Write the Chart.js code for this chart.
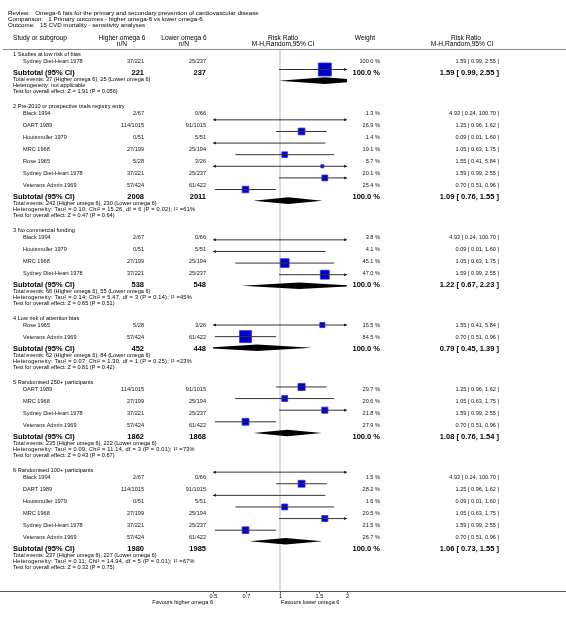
<!DOCTYPE html>
<html>
<head>
<meta charset="utf-8">
<script src="https://cdn.jsdelivr.net/npm/chart.js@4.4.0/dist/chart.umd.min.js"></script>
<style>
html, body { margin: 0; padding: 0; background: #fff; }
#wrap { width: 566px; height: 621px; }
</style>
</head>
<body>
<div id="wrap"><canvas id="forest" width="566" height="621"></canvas></div>
<script>
const titleLines = [
    'Review:   Omega-6 fats for the primary and secondary prevention of cardiovascular disease',
    'Comparison:   1 Primary outcomes - higher omega-6 vs lower omega-6',
    'Outcome:   15 CVD mortality - sensitivity analyses'
];

const groupTitles = [
    '1 Studies at low risk of bias',
    '2 Pre-2010 or prospective trials registry entry',
    '3 No commercial funding',
    '4 Low risk of attention bias',
    '5 Randomised 250+ participants',
    '6 Randomised 100+ participants'
];

// study level values
const studyNames = ['Black 1994', 'DART 1989', 'Houtsmuller 1979', 'MRC 1968', 'Rose 1965', 'Sydney Diet-Heart 1978', 'Veterans Admin 1969'];
const higherNN = ['2/67', '114/1015', '0/51', '27/199', '5/28', '37/221', '57/424'];
const lowerNN = ['0/66', '91/1015', '5/51', '25/194', '3/26', '25/237', '61/422'];
const studyRR = [4.93, 1.25, 0.09, 1.05, 1.55, 1.59, 0.70];
const studyLow = [0.24, 0.96, 0.01, 0.63, 0.41, 0.99, 0.51];
const studyHigh = [100.70, 1.62, 1.60, 1.75, 5.84, 2.55, 0.96];

// which studies sit in each subgroup, and their weights (%)
const groupMembers = [[5], [0, 1, 2, 3, 4, 5, 6], [0, 2, 3, 5], [4, 6], [1, 3, 5, 6], [0, 1, 2, 3, 5, 6]];
const groupWeights = [
    [100.0],
    [1.3, 26.9, 1.4, 19.1, 5.7, 20.1, 25.4],
    [3.8, 4.1, 45.1, 47.0],
    [15.5, 84.5],
    [29.7, 20.6, 21.8, 27.9],
    [1.5, 28.2, 1.6, 20.5, 21.5, 26.7]
];

// subtotals
const subHigherN = [221, 2008, 538, 452, 1862, 1980];
const subLowerN = [237, 2011, 548, 448, 1868, 1985];
const subRR = [1.59, 1.09, 1.22, 0.79, 1.08, 1.06];
const subLow = [0.99, 0.76, 0.67, 0.45, 0.76, 0.73];
const subHigh = [2.55, 1.55, 2.23, 1.39, 1.54, 1.55];
const eventsHigher = [37, 242, 66, 62, 235, 237];
const eventsLower = [25, 230, 55, 84, 222, 227];
const heterogeneity = [
    'Heterogeneity: not applicable',
    'Heterogeneity: Tau\u00b2 = 0.10; Chi\u00b2 = 15.26, df = 6 (P = 0.02); I\u00b2 =61%',
    'Heterogeneity: Tau\u00b2 = 0.14; Chi\u00b2 = 5.47, df = 3 (P = 0.14); I\u00b2 =45%',
    'Heterogeneity: Tau\u00b2 = 0.07; Chi\u00b2 = 1.30, df = 1 (P = 0.25); I\u00b2 =23%',
    'Heterogeneity: Tau\u00b2 = 0.09; Chi\u00b2 = 11.14, df = 3 (P = 0.01); I\u00b2 =73%',
    'Heterogeneity: Tau\u00b2 = 0.11; Chi\u00b2 = 14.94, df = 5 (P = 0.01); I\u00b2 =67%'
];
const overallTest = [
    'Test for overall effect: Z = 1.91 (P = 0.056)',
    'Test for overall effect: Z = 0.47 (P = 0.64)',
    'Test for overall effect: Z = 0.65 (P = 0.51)',
    'Test for overall effect: Z = 0.81 (P = 0.42)',
    'Test for overall effect: Z = 0.43 (P = 0.67)',
    'Test for overall effect: Z = 0.32 (P = 0.75)'
];

const xTicks = [0.5, 0.7, 1, 1.5, 2];
const favourLeft = 'Favours higher omega 6';
const favourRight = 'Favours lower omega 6';

// ---- layout (pixels) ----
const FONT = '"Liberation Sans", Arial, Helvetica, sans-serif';
const small = '5.6px ' + FONT;
const title = '6.2px ' + FONT;
const head = '6.6px ' + FONT;
const bold = 'bold 7.5px ' + FONT;
const col = { title: 8, group: 13, study: 23, higher: 144, lower: 206, weight: 380, rr: 499 };
const gap = { top: 54.5, headToStudy: 7, step: 12, studyToSub: 11.5, line: 6, testToHead: 15.5 };
const axisY = 591;

function fmtRR(r, lo, hi) {
    return r.toFixed(2) + ' [ ' + lo.toFixed(2) + ', ' + hi.toFixed(2) + ' ]';
}

// build the rows top to bottom
const rows = [];
let cy = gap.top;
groupTitles.forEach((t, g) => {
    rows.push({ type: 'group', y: cy, g });
    cy += gap.headToStudy;
    groupMembers[g].forEach((s, i) => {
        if (i > 0) cy += gap.step;
        rows.push({ type: 'study', y: cy, g, s, w: groupWeights[g][i] });
    });
    cy += gap.studyToSub;
    rows.push({ type: 'sub', y: cy, g });
    cy += gap.line;
    rows.push({ type: 'events', y: cy, g });
    cy += gap.line;
    rows.push({ type: 'het', y: cy, g });
    cy += gap.line;
    rows.push({ type: 'test', y: cy, g });
    cy += gap.testToHead;
});

const studyRows = rows.filter(r => r.type === 'study');
const subRows = rows.filter(r => r.type === 'sub');

const datasets = [];
studyRows.forEach(r => {
    datasets.push({
        showLine: true,
        data: [{ x: studyLow[r.s], y: r.y }, { x: studyHigh[r.s], y: r.y }],
        borderColor: '#333',
        borderWidth: 1,
        pointRadius: 0,
        clip: 0
    });
});
datasets.push({
    data: studyRows.map(r => ({ x: studyRR[r.s], y: r.y })),
    pointStyle: 'rect',
    pointRadius: studyRows.map(r => Math.max(2.5, 13 * Math.sqrt(r.w / 100)) / Math.SQRT2),
    backgroundColor: '#0000c8',
    borderColor: '#2a2aff',
    borderWidth: 0.8,
    clip: 0
});

const forestPlugin = {
    id: 'forest',
    beforeDatasetsDraw(chart) {
        const ctx = chart.ctx;
        const x1 = chart.scales.x.getPixelForValue(1);
        ctx.save();
        ctx.strokeStyle = '#cfcfcf';
        ctx.lineWidth = 1.5;
        ctx.beginPath();
        ctx.moveTo(x1, 50);
        ctx.lineTo(x1, axisY);
        ctx.stroke();
        ctx.restore();
    },
    afterDatasetsDraw(chart) {
        const ctx = chart.ctx;
        const xs = chart.scales.x, ys = chart.scales.y;
        const area = chart.chartArea;
        ctx.save();
        ctx.fillStyle = '#222';
        // arrows for intervals running off the scale
        studyRows.forEach(r => {
            const y = ys.getPixelForValue(r.y);
            if (studyLow[r.s] < xs.min) {
                ctx.beginPath();
                ctx.moveTo(area.left, y);
                ctx.lineTo(area.left + 3, y - 1.5);
                ctx.lineTo(area.left + 3, y + 1.5);
                ctx.closePath();
                ctx.fill();
            }
            if (studyHigh[r.s] > xs.max) {
                ctx.beginPath();
                ctx.moveTo(area.right, y);
                ctx.lineTo(area.right - 3, y - 1.5);
                ctx.lineTo(area.right - 3, y + 1.5);
                ctx.closePath();
                ctx.fill();
            }
        });
        // subtotal diamonds
        ctx.beginPath();
        ctx.rect(area.left, area.top, area.right - area.left, area.bottom - area.top);
        ctx.clip();
        ctx.fillStyle = '#000';
        subRows.forEach(r => {
            const y = ys.getPixelForValue(r.y);
            const a = xs.getPixelForValue(subLow[r.g]);
            const m = xs.getPixelForValue(subRR[r.g]);
            const b = xs.getPixelForValue(subHigh[r.g]);
            ctx.beginPath();
            ctx.moveTo(a, y);
            ctx.lineTo(m, y - 3.3);
            ctx.lineTo(b, y);
            ctx.lineTo(m, y + 3.3);
            ctx.closePath();
            ctx.fill();
        });
        ctx.restore();
    },
    afterDraw(chart) {
        const ctx = chart.ctx;
        const xs = chart.scales.x;
        const x1 = xs.getPixelForValue(1);
        const txt = (s, x, y, font, align, color) => {
            ctx.font = font;
            ctx.textAlign = align || 'left';
            ctx.fillStyle = color || '#000';
            ctx.fillText(s, x, y);
        };
        ctx.save();
        ctx.textBaseline = 'middle';

        // titles
        titleLines.forEach((t, i) => txt(t, col.title, 13 + i * 6.3, title));

        // column headers
        txt('Study or subgroup', col.group, 38, head);
        txt('Higher omega 6', 122, 38, head, 'center');
        txt('n/N', 122, 44, head, 'center');
        txt('Lower omega 6', 184, 38, head, 'center');
        txt('n/N', 184, 44, head, 'center');
        txt('Risk Ratio', x1 + 3, 38, head, 'center');
        txt('M-H,Random,95% CI', x1 + 3, 44, head, 'center');
        txt('Weight', 365, 38, head, 'center');
        txt('Risk Ratio', 466, 38, head, 'center');
        txt('M-H,Random,95% CI', 462, 44, head, 'center');

        ctx.strokeStyle = '#8a8a8a';
        ctx.lineWidth = 1.2;
        ctx.beginPath();
        ctx.moveTo(3, 49.5);
        ctx.lineTo(566, 49.5);
        ctx.stroke();

        rows.forEach(r => {
            const g = r.g;
            if (r.type === 'group') {
                txt(groupTitles[g], col.group, r.y, small);
            } else if (r.type === 'study') {
                txt(studyNames[r.s], col.study, r.y, small, 'left', '#111');
                txt(higherNN[r.s], col.higher, r.y, small, 'right', '#111');
                txt(lowerNN[r.s], col.lower, r.y, small, 'right', '#111');
                txt(r.w.toFixed(1) + ' %', col.weight, r.y, small, 'right', '#111');
                txt(fmtRR(studyRR[r.s], studyLow[r.s], studyHigh[r.s]), col.rr, r.y, small, 'right', '#111');
            } else if (r.type === 'sub') {
                txt('Subtotal (95% CI)', col.group, r.y, bold);
                txt(String(subHigherN[g]), col.higher, r.y, bold, 'right');
                txt(String(subLowerN[g]), col.lower, r.y, bold, 'right');
                txt('100.0 %', col.weight, r.y, bold, 'right');
                txt(fmtRR(subRR[g], subLow[g], subHigh[g]), col.rr, r.y, bold, 'right');
            } else if (r.type === 'events') {
                txt('Total events: ' + eventsHigher[g] + ' (Higher omega 6), ' + eventsLower[g] + ' (Lower omega 6)', col.group, r.y, small);
            } else if (r.type === 'het') {
                ctx.letterSpacing = g > 0 ? '0.24px' : '0px';
                txt(heterogeneity[g], col.group, r.y, small);
                ctx.letterSpacing = '0px';
            } else {
                txt(overallTest[g], col.group, r.y, small);
            }
        });

        // bottom axis
        ctx.strokeStyle = '#555';
        ctx.lineWidth = 1;
        ctx.beginPath();
        ctx.moveTo(0, axisY + 0.5);
        ctx.lineTo(566, axisY + 0.5);
        ctx.stroke();
        xTicks.forEach(v => {
            const px = Math.round(xs.getPixelForValue(v)) + 0.5;
            ctx.beginPath();
            ctx.moveTo(px, axisY + 0.5);
            ctx.lineTo(px, axisY + 2.5);
            ctx.stroke();
            txt(String(v), px, axisY + 5.5, small, 'center');
        });
        txt(favourLeft, chart.chartArea.left, axisY + 11.5, small, 'right');
        txt(favourRight, x1 + 1, axisY + 11.5, small, 'left');
        ctx.restore();
    }
};

new Chart(document.getElementById('forest'), {
    type: 'scatter',
    data: { datasets: datasets },
    options: {
        responsive: false,
        animation: false,
        devicePixelRatio: 1,
        layout: { padding: { left: 213, right: 219, top: 0, bottom: 0 } },
        scales: {
            x: { type: 'logarithmic', min: 0.5, max: 2, display: false },
            y: { type: 'linear', min: 0, max: 621, reverse: true, display: false }
        },
        plugins: {
            legend: { display: false },
            tooltip: { enabled: false }
        }
    },
    plugins: [forestPlugin]
});
</script>
</body>
</html>
